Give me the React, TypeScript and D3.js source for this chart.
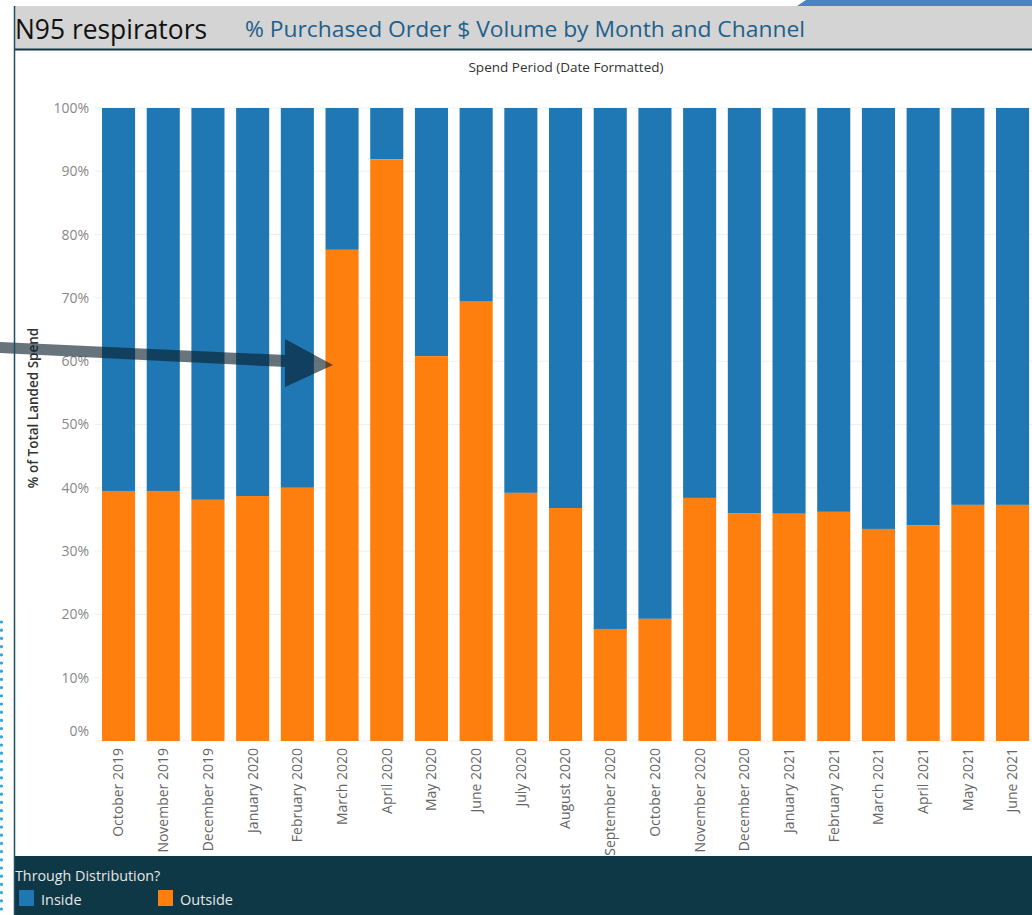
import React from "react";
import * as d3 from "d3";

const months = [
  "October 2019", "November 2019", "December 2019", "January 2020", "February 2020",
  "March 2020", "April 2020", "May 2020", "June 2020", "July 2020", "August 2020",
  "September 2020", "October 2020", "November 2020", "December 2020", "January 2021",
  "February 2021", "March 2021", "April 2021", "May 2021", "June 2021",
];
const outsidePct = [
  39.5, 39.5, 38.1, 38.7, 40.0, 77.6, 91.9, 60.8, 69.4, 39.2, 36.8,
  17.7, 19.3, 38.4, 36.0, 35.9, 36.2, 33.5, 34.1, 37.3, 37.3,
];
const yTicks = [0, 10, 20, 30, 40, 50, 60, 70, 80, 90, 100];
const seriesNames = ["Inside", "Outside"];
const seriesColors = ["#1f77b4", "#ff7f0e"];

const W = 1032;
const H = 915;

export default function App() {
  const x = d3.scaleBand<string>().domain(months).range([96.2, 1034.9]).paddingInner(0.26).paddingOuter(0.13);
  const y = d3.scaleLinear().domain([0, 100]).range([741, 108]);
  const bw = x.bandwidth();
  const dots = d3.range(622, 915, 8.2);
  const font = "'Open Sans', 'Noto Sans', sans-serif";

  return (
    <svg width={W} height={H} style={{ position: "absolute", left: 0, top: 0, display: "block" }} fontFamily={font}>
      <rect x={0} y={0} width={W} height={H} fill="#ffffff" />
      {/* header band */}
      <rect x={14} y={6} width={W - 14} height={43} fill="#d4d4d4" />
      <path d="M797,6 L806,0 L1032,0 L1032,6 Z" fill="#4f81bd" />
      <line x1={14} x2={W} y1={49.5} y2={49.5} stroke="#0f3846" strokeWidth={2} />
      <text x={15} y={39} fontSize={26.5} fill="#111" textLength={192} lengthAdjust="spacingAndGlyphs">N95 respirators</text>
      <text x={245} y={37} fontSize={22.5} fill="#1f5f8b" textLength={560} lengthAdjust="spacingAndGlyphs">% Purchased Order $ Volume by Month and Channel</text>
      <text x={566} y={72} fontSize={13.5} fill="#333" textAnchor="middle">Spend Period (Date Formatted)</text>

      {/* gridlines */}
      {yTicks.map((t) => (
        <line key={"g" + t} x1={95} x2={W} y1={y(t)} y2={y(t)} stroke="#efefef" strokeWidth={1} />
      ))}
      {/* y tick labels */}
      {yTicks.map((t) => (
        <text key={"t" + t} x={89} y={t === 0 ? y(t) - 10 : y(t)} dy="0.35em" fontSize={14} fill="#888" textAnchor="end">
          {t}%
        </text>
      ))}
      <text transform="translate(38,408) rotate(-90)" fontSize={13.5} fontWeight={600} fill="#333" textAnchor="middle">
        % of Total Landed Spend
      </text>

      {/* bars */}
      {months.map((m, i) => (
        <g key={m}>
          <rect x={x(m)} y={y(100)} width={bw} height={y(outsidePct[i]) - y(100)} fill={seriesColors[0]} />
          <rect x={x(m)} y={y(outsidePct[i])} width={bw} height={y(0) - y(outsidePct[i])} fill={seriesColors[1]} />
        </g>
      ))}
      {/* x labels */}
      {months.map((m) => (
        <text
          key={"l" + m}
          transform={`translate(${(x(m) as number) + bw / 2},748) rotate(-90)`}
          dy="0.35em"
          fontSize={14}
          fill="#666"
          textAnchor="end"
        >
          {m}
        </text>
      ))}

      {/* arrow annotation */}
      <g fill="#0a1e2c" opacity={0.62}>
        <path d="M0,342 L286,355 L286,367 L0,353 Z" />
        <path d="M285,339 L333,365 L285,387 Z" />
      </g>

      {/* legend band */}
      <rect x={14} y={856} width={W - 14} height={H - 856} fill="#0f3846" />
      <text x={15} y={881} fontSize={14.3} fill="#e6e6e6">Through Distribution?</text>
      {seriesNames.map((s, i) => (
        <g key={s}>
          <rect x={19 + i * 139} y={890} width={15} height={16} fill={seriesColors[i]} />
          <text x={41 + i * 139} y={905} fontSize={14.5} fill="#e6e6e6">{s}</text>
        </g>
      ))}

      {/* left border */}
      <line x1={14.5} x2={14.5} y1={6} y2={H} stroke="#1d4f5e" strokeWidth={1.5} />
      {/* dotted line */}
      {dots.map((d, i) => (
        <circle key={"d" + i} cx={1.5} cy={d} r={1.6} fill="#2fa4e7" />
      ))}
    </svg>
  );
}
